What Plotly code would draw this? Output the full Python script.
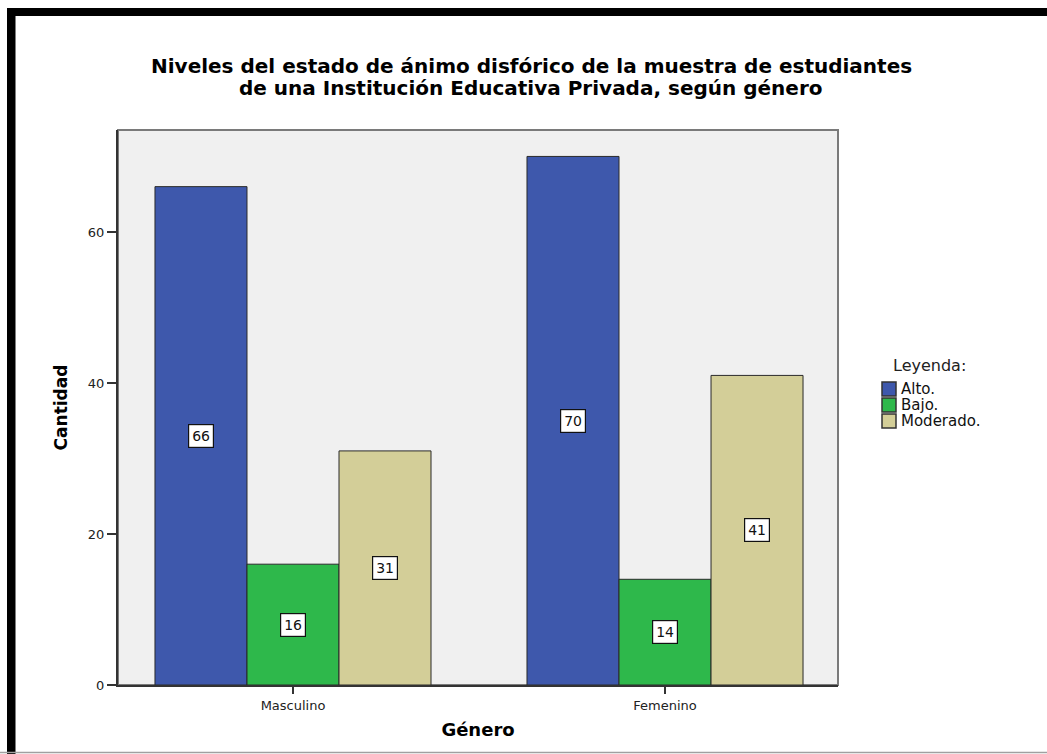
import plotly.graph_objects as go

# Data
categories = ["Masculino", "Femenino"]
niveles = ["Alto.", "Bajo.", "Moderado."]
alto = [66, 70]
bajo = [16, 14]
moderado = [31, 41]
series = [alto, bajo, moderado]
colors = ["#3E58AC", "#2EB84B", "#D3CE98"]

W, H = 1047, 754
L, R, T, B = 118, 209, 130, 69
bargap = 0.258

fig = go.Figure()
for name, vals, col in zip(niveles, series, colors):
    fig.add_trace(go.Bar(
        x=categories, y=vals, name=name, showlegend=False,
        marker=dict(color=col, line=dict(color="#2a2a2a", width=1)),
    ))

# Value boxes at the middle of each bar
n = len(series)
bw = (1 - bargap) / n
for j, vals in enumerate(series):
    for i, v in enumerate(vals):
        fig.add_annotation(
            x=i + (j - (n - 1) / 2) * bw, y=v / 2, xref="x", yref="y",
            text=str(v), showarrow=False,
            font=dict(family="DejaVu Sans", size=14, color="#111"),
            bgcolor="white", bordercolor="#111", borderwidth=1.2, borderpad=3,
        )

pw, ph = W - L - R, H - T - B
def px(x):
    return (x - L) / pw
def py(y):
    return (H - B - y) / ph

# Title (two tightly spaced lines)
title_lines = [
    "Niveles del estado de ánimo disfórico de la muestra de estudiantes",
    "de una Institución Educativa Privada, según género",
]
for k, line in enumerate(title_lines):
    fig.add_annotation(
        x=px(531), y=py(66 + k * 22), xref="paper", yref="paper",
        text="<b>" + line + "</b>", showarrow=False,
        font=dict(family="DejaVu Sans", size=20, color="black"),
        xanchor="center", yanchor="middle",
    )

# Legend box: heading, swatches and labels
fig.add_annotation(
    x=px(891), y=py(365), xref="paper", yref="paper",
    text="Leyenda:", showarrow=False, xanchor="left", yanchor="middle",
    font=dict(family="DejaVu Sans", size=16, color="#222"),
)
for k, (name, col) in enumerate(zip(niveles, colors)):
    yc = 389 + k * 16
    fig.add_shape(type="rect", xref="paper", yref="paper",
                  x0=px(882), x1=px(896), y0=py(yc - 7), y1=py(yc + 7),
                  fillcolor=col, line=dict(color="#333", width=1.5))
    fig.add_annotation(
        x=px(899), y=py(yc), xref="paper", yref="paper",
        text=name, showarrow=False, xanchor="left", yanchor="middle",
        font=dict(family="DejaVu Sans", size=15, color="#111"),
    )

# Page frame
fig.add_shape(type="rect", xref="paper", yref="paper",
              x0=px(7), x1=px(1050), y0=py(8), y1=py(16),
              fillcolor="black", line=dict(width=0), layer="above")
fig.add_shape(type="rect", xref="paper", yref="paper",
              x0=px(7), x1=px(15.5), y0=py(8), y1=py(756),
              fillcolor="black", line=dict(width=0), layer="above")
fig.add_shape(type="line", xref="paper", yref="paper",
              x0=px(0), x1=px(1050), y0=py(752.5), y1=py(752.5),
              line=dict(color="#a0a0a0", width=1.5))

# Plot frame (top and right edges)
fig.add_shape(type="rect", xref="paper", yref="paper",
              x0=0, x1=1, y0=0, y1=1,
              line=dict(color="#7a7a7a", width=2), layer="below")

fig.update_layout(
    width=W, height=H,
    margin=dict(l=L, r=R, t=T, b=B, pad=0),
    paper_bgcolor="white", plot_bgcolor="#F0F0F0",
    barmode="group", bargap=bargap, bargroupgap=0,
    showlegend=False,
    xaxis=dict(
        range=[-0.4704, 1.465], showgrid=False, zeroline=False,
        showline=True, linecolor="#333", linewidth=2,
        ticks="outside", ticklen=7, tickcolor="#333", tickwidth=2,
        tickfont=dict(family="DejaVu Sans", size=13, color="#222"),
        title=dict(text="<b>Género</b>", standoff=12,
                   font=dict(family="DejaVu Sans", size=18, color="black")),
    ),
    yaxis=dict(
        range=[0, 73.5], tickvals=[0, 20, 40, 60], showgrid=False, zeroline=False,
        showline=True, linecolor="#333", linewidth=2,
        ticks="outside", ticklen=9, tickcolor="#333", tickwidth=1.5,
        tickfont=dict(family="DejaVu Sans", size=13, color="#222"),
        title=dict(text="<b>Cantidad</b>", standoff=16,
                   font=dict(family="DejaVu Sans", size=17, color="black")),
    ),
)

fig.write_html("out.html")
